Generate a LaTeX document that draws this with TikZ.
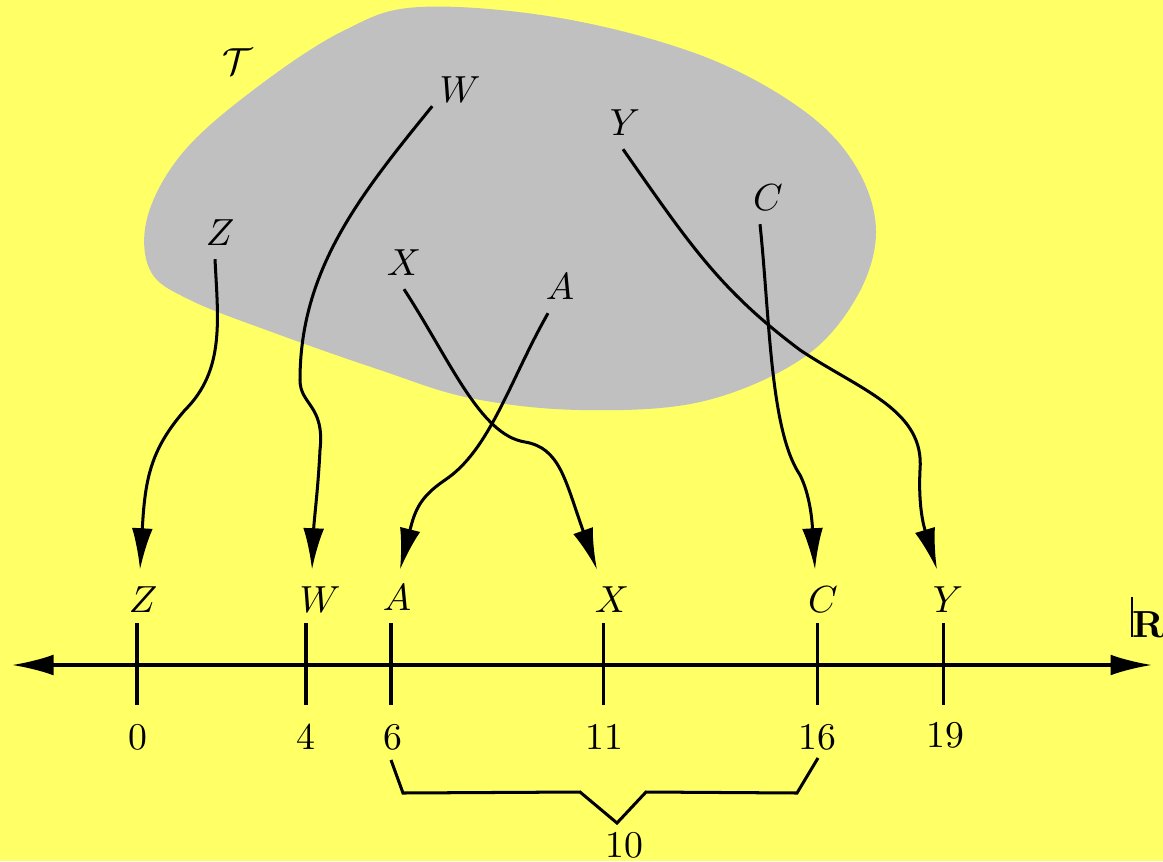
\documentclass[tikz,border=0pt]{standalone}
\usetikzlibrary{arrows.meta,calc}
\definecolor{bgyellow}{RGB}{255,255,102}
\definecolor{blobgray}{RGB}{192,192,192}
\begin{document}
\begin{tikzpicture}[x=0.265pt,y=-0.265pt,
  conn/.style={line width=0.8pt,-{Latex[length=11pt,width=5.5pt]}},
  axisline/.style={line width=0.8pt,{Latex[length=11pt,width=5.5pt]}-{Latex[length=11pt,width=5.5pt]}},
  tick/.style={line width=0.8pt}]
\fill[bgyellow] (0,0) rectangle (1163,861);
\useasboundingbox (0,0) rectangle (1163,861);
% blob
\fill[blobgray] plot[smooth cycle,tension=0.6] coordinates {
 (420,7) (560,18) (700,55) (800,108) (855,165) (876,232) (855,300) (800,360)
 (700,402) (580,410) (470,398) (380,370) (280,335) (190,300) (150,270)
 (148,215) (185,150) (260,85) (345,30)};
% labels in blob
\node (tT) at (238,62) {$\mathcal{T}$};
\node (bW) at (460,90) {$W$};
\node (bY) at (625,123) {$Y$};
\node (bC) at (768,198) {$C$};
\node (bZ) at (220,233) {$Z$};
\node (bX) at (404,263) {$X$};
\node (bA) at (560,287) {$A$};
% labels on axis
\node (aZ) at (143,600) {$Z$};
\node (aW) at (320,600) {$W$};
\node (aA) at (397,598) {$A$};
\node (aX) at (612,600) {$X$};
\node (aC) at (823,600) {$C$};
\node (aY) at (948,600) {$Y$};
% axis
\coordinate (axL) at (12,665);
\coordinate (axR) at (1152,665);
\draw[axisline] (axL) -- (axR);
\node[anchor=base] (rR) at (1148,637) {\rule{0.6pt}{1.05em}\kern-0.2pt\textbf{R}};
\foreach \x/\n in {137/t0,306/t4,391/t6,603/t11,817/t16,943/t19}{
  \coordinate (\n a) at (\x,623);
  \coordinate (\n b) at (\x,705);
  \draw[tick] (\n a) -- (\n b);
}
\node (n0) at (138,737) {0};
\node (n4) at (306,737) {4};
\node (n6) at (393,737) {6};
\node (n11) at (604,737) {11};
\node (n16) at (817,737) {16};
\node (n19) at (945,735) {19};
% brace
\coordinate (b1) at (391,760);
\coordinate (b2) at (403,793);
\coordinate (b3) at (580,792);
\coordinate (b4) at (617,823);
\coordinate (b5) at (646,792);
\coordinate (b6) at (797,793);
\coordinate (b7) at (818,758);
\draw[tick,line join=miter] (b1) -- (b2) -- (b3) -- (b4) -- (b5) -- (b6) -- (b7);
\node (n10) at (624,845) {10};
% connectors
\draw[conn] ($(bZ.south)+(-5,0)$) .. controls (218,320) and (225,370) .. (185,410)
  .. controls (150,450) and (145,480) .. ($(aZ.north)+(-3,-4)$);
\draw[conn] ($(bW.south west)+(6,-10)$) .. controls (360,195) and (300,270) .. (300,380)
  .. controls (300,405) and (325,405) .. (320,450)
  .. controls (318,490) and (314,520) .. ($(aW.north)+(-8,-4)$);
\draw[conn] (bX.south) .. controls (450,360) and (480,435) .. (525,442)
  .. controls (560,448) and (565,480) .. ($(aX.north)+(-15,-4)$);
\draw[conn] ($(bA.south)+(-12,0)$) .. controls (510,380) and (490,450) .. (445,480)
  .. controls (420,497) and (415,510) .. ($(aA.north)+(3,-2)$);
\draw[conn] ($(bY.south)+(-2,0)$) .. controls (690,245) and (720,290) .. (800,350)
  .. controls (860,390) and (925,410) .. (920,470)
  .. controls (918,510) and (925,530) .. ($(aY.north)+(-11,-4)$);
\draw[conn] ($(bC.south)+(-8,0)$) .. controls (770,320) and (770,430) .. (800,475)
  .. controls (810,495) and (812,520) .. ($(aC.north)+(-8,-4)$);
\end{tikzpicture}
\end{document}
